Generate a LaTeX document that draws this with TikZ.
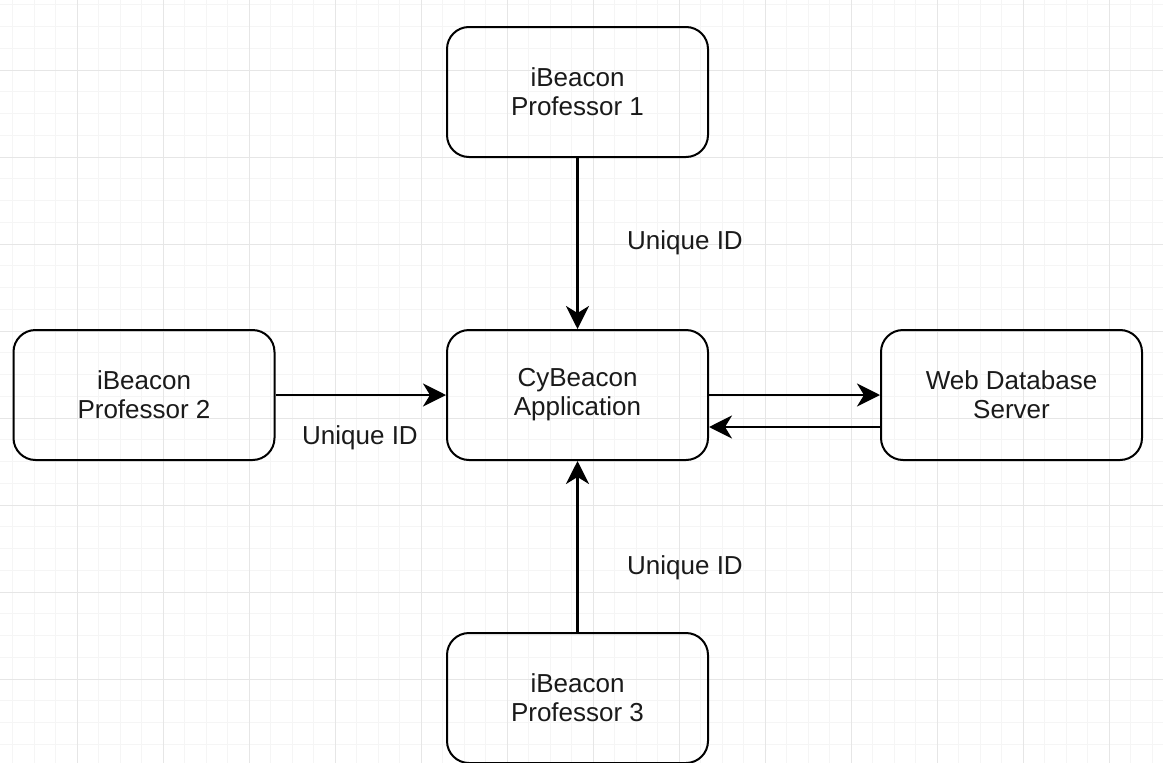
\documentclass[tikz,border=0pt]{standalone}
\usepackage{fontspec}
\setmainfont{Liberation Sans}
\usetikzlibrary{positioning,arrows.meta}

\definecolor{gridminor}{RGB}{245,245,245}
\definecolor{gridmajor}{RGB}{230,230,230}
\definecolor{txt}{RGB}{26,26,26}

\tikzset{
	box/.style={draw,line width=2pt,rounded corners=22pt,minimum width=261pt,minimum height=130pt,inner sep=0pt,align=center,text=txt,font=\fontsize{26}{29}\selectfont},
	lab/.style={inner sep=0pt,text=txt,font=\fontsize{26}{29}\selectfont},
	conn/.style={line width=2.6pt,-{Stealth[length=23pt,width=23pt,inset=7pt]}}
}

\begin{document}
\begin{tikzpicture}[x=1pt,y=-1pt]

\useasboundingbox (0,0) rectangle (1163,763);

% grid
\foreach \x in {12.5,34,...,1163}
	\draw[gridminor,line width=1pt] (\x,0)--(\x,763);
\foreach \y in {4.75,26.5,...,763}
	\draw[gridminor,line width=1pt] (0,\y)--(1163,\y);
\foreach \x in {77,163,...,1163}
	\draw[gridmajor,line width=1pt] (\x,0)--(\x,763);
\foreach \y in {70,157,...,763}
	\draw[gridmajor,line width=1pt] (0,\y)--(1163,\y);

\node[box] (app) at (577.5,395) {CyBeacon\\Application};
\node[box] (b-1) at (577.5,92) {iBeacon\\Professor 1};
\node[box] (b-2) at (144,395) {iBeacon\\Professor 2};
\node[box] (b-3) at (577.5,698) {iBeacon\\Professor 3};
\node[box] (web) at (1011.5,395) {Web Database\\Server};

\node[lab] (l-1) at (685,243) {Unique ID};
\node[lab] (l-2) at (360,438) {Unique ID};
\node[lab] (l-3) at (685,568) {Unique ID};

\draw[conn] (b-1)--(app);
\draw[conn] (b-2)--(app);
\draw[conn] (b-3)--(app);
\draw[conn] (app)--(web);
\draw[conn] ([yshift=-32pt]web.west)--([yshift=-32pt]app.east);
\end{tikzpicture}
\end{document}
